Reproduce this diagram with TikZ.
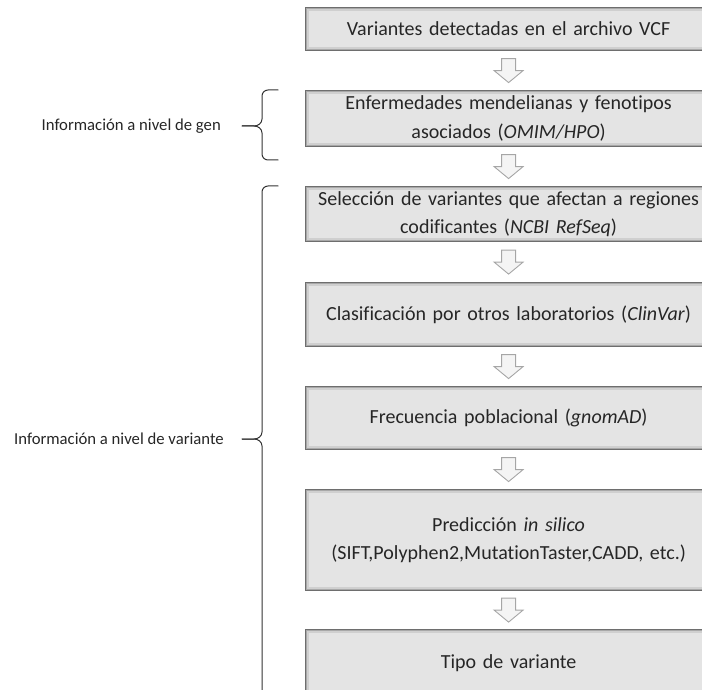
\documentclass[tikz,border=0pt]{standalone}
\usepackage{fontspec}
\setmainfont{Carlito}[Ligatures={NoCommon}]
\usetikzlibrary{calc}
\definecolor{boxfill}{HTML}{E4E4E4}
\definecolor{boxline}{HTML}{6E6E6E}
\definecolor{bevelA}{HTML}{CFCFCF}
\definecolor{bevelB}{HTML}{A8A8A8}
\definecolor{arrline}{HTML}{A6A6A6}
\definecolor{arrfill}{HTML}{F4F4F4}
\definecolor{txt}{HTML}{262626}
\tikzset{
  stagebox/.style={rectangle, fill=boxfill, draw=boxline, line width=1.2pt,
    text width=407pt, inner xsep=0pt, inner ysep=0pt, align=center, text=txt,
    font=\fontsize{20}{28.5}\selectfont, anchor=north west,
    path picture={
      \draw[bevelA, line width=7pt] (path picture bounding box.south west) rectangle (path picture bounding box.north east);
      \draw[bevelB, line width=3pt] (path picture bounding box.south west) rectangle (path picture bounding box.north east);
    }},
  sidelabel/.style={anchor=east, text=txt, font=\fontsize{16.7}{20}\selectfont, inner sep=0pt},
  bracestyle/.style={draw=black!80, line width=1pt, line cap=round, line join=round},
  arrowstyle/.style={draw=arrline, fill=arrfill, line width=0.9pt, line join=miter}
}
\newcommand\blockarrow[2]{%
  \path ($(#1.south)!0.5!(#2.north)$) coordinate (m);
  \draw[arrowstyle] ($(m)+(-7,12)$) -- ($(m)+(7,12)$) -- ($(m)+(7,0)$) -- ($(m)+(14.5,0)$)
    -- ($(m)+(0,-12)$) -- ($(m)+(-14.5,0)$) -- ($(m)+(-7,0)$) -- cycle;}
\begin{document}
\begin{tikzpicture}[x=1pt,y=1pt]
\useasboundingbox (0,0) rectangle (702,-690);
\clip (0,0) rectangle (702,-690);
\node[stagebox, minimum height=43pt] (b1) at (304.5,-7) {Variantes detectadas en el archivo VCF};
\node[stagebox, minimum height=56pt] (b2) at (304.5,-90) {Enfermedades mendelianas y fenotipos\\asociados (\textit{OMIM/HPO})};
\node[stagebox, minimum height=55pt] (b3) at (304.5,-186) {Selección de variantes que afectan a regiones\\codificantes (\textit{NCBI RefSeq})};
\node[stagebox, minimum height=64pt] (b4) at (304.5,-282) {Clasificación por otros laboratorios (\textit{ClinVar})};
\node[stagebox, minimum height=63pt] (b5) at (304.5,-386) {Frecuencia poblacional (\textit{gnomAD})};
\node[stagebox, minimum height=101pt] (b6) at (304.5,-489) {Predicción \textit{in silico}\\(SIFT,Polyphen2,MutationTaster,CADD, etc.)};
\node[stagebox, minimum height=68pt] (b7) at (304.5,-629) {Tipo de variante};
\blockarrow{b1}{b2}
\blockarrow{b2}{b3}
\blockarrow{b3}{b4}
\blockarrow{b4}{b5}
\blockarrow{b5}{b6}
\blockarrow{b6}{b7}
% braces
\coordinate (t1) at (242,-126);
\coordinate (t2) at (242,-439);
\draw[bracestyle] (278,-90) -- (268,-90) to[out=180,in=90] (262,-96) -- (262,-119)
  to[out=-90,in=0] (254,-126) -- (t1);
\draw[bracestyle] (t1) -- (254,-126) to[out=0,in=90] (262,-133) -- (262,-154)
  to[out=-90,in=180] (268,-160) -- (278,-160);
\draw[bracestyle] (278,-186) -- (268,-186) to[out=180,in=90] (262,-192) -- (262,-432)
  to[out=-90,in=0] (254,-439) -- (t2);
\draw[bracestyle] (t2) -- (254,-439) to[out=0,in=90] (262,-446) -- (262,-700);
\node[sidelabel] (l1) at ($(t1)+(-21,0)$) {Información a nivel de gen};
\node[sidelabel] (l2) at ($(t2)+(-18,0)$) {Información a nivel de variante};
\end{tikzpicture}
\end{document}
